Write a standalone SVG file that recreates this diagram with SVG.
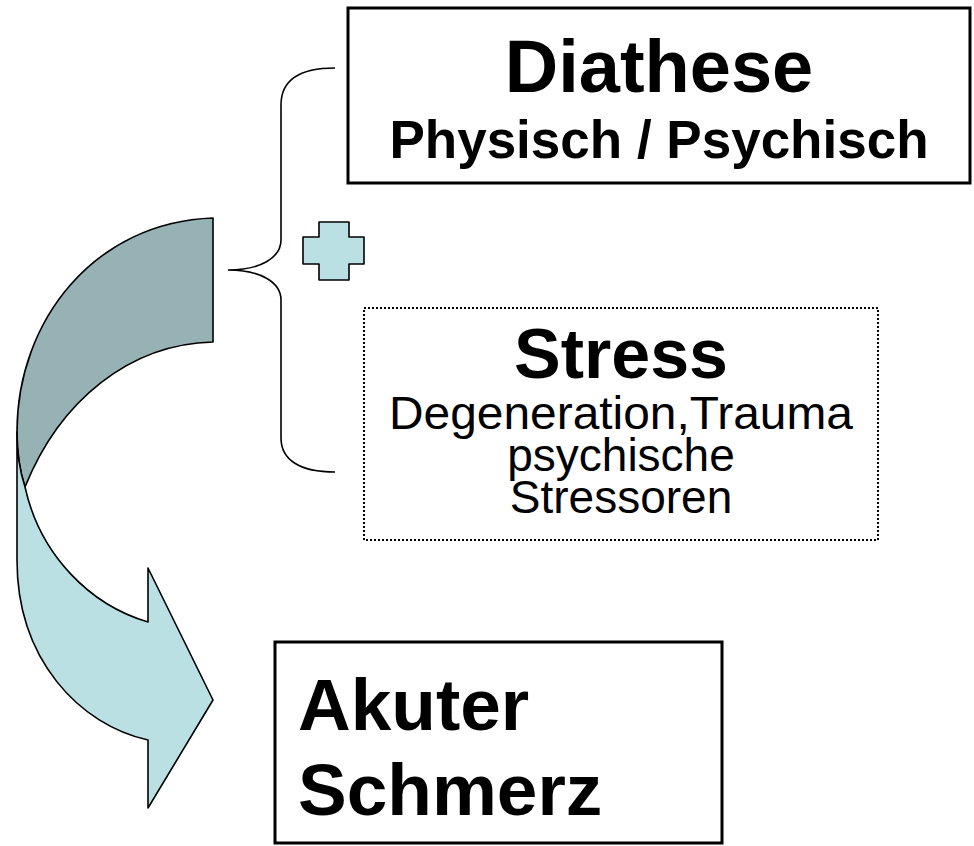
<svg xmlns="http://www.w3.org/2000/svg" width="974" height="846" viewBox="0 0 974 846">
<style>
.box{fill:#fff;stroke:#000;stroke-width:3}
.dot{fill:#fff;stroke:#000;stroke-width:2;stroke-dasharray:2 2}
.b{font-family:"Liberation Sans",Arial,sans-serif;font-weight:bold;fill:#000}
.r{font-family:"Liberation Sans",Arial,sans-serif;fill:#000}
.line{fill:none;stroke:#000;stroke-width:1.6}
.shape{stroke:#000;stroke-width:1.6;stroke-linejoin:round}
</style>
<rect width="974" height="846" fill="#fff"/>
<g id="arrow">
<path class="shape" fill="#97B2B5" d="M213,218 C95,222 17,320 17,432 C17,455 20,472 25,487 C60,400 130,344 213,342 Z"/>
<path class="shape" fill="#BBE0E3" d="M17,432 L17,560 C17,660 80,725 148,740 L148,808 L213,700 L148,568 L148,622 C90,605 40,555 25,487 C20,472 17,455 17,432 Z"/>
</g>
<g id="connectors">
<path class="line" d="M335,68 C300,68 281,80 281,105 L281,240 C281,258 260,270 228,270 C260,270 281,282 281,300 L281,438 C281,460 300,472 335,472"/>
</g>
<g id="plus">
<path class="shape" fill="#BBE0E3" stroke-width="2" d="M319,222 L349,222 L349,237 L364,237 L364,264 L349,264 L349,280 L319,280 L319,264 L303,264 L303,237 L319,237 Z"/>
</g>
<g id="diathese">
<rect class="box" x="348" y="8" width="622" height="175"/>
<text class="b" x="659" y="92" font-size="74" text-anchor="middle">Diathese</text>
<text class="b" x="659" y="158" font-size="53" text-anchor="middle">Physisch / Psychisch</text>
</g>
<g id="stress">
<rect class="dot" x="364" y="308" width="514" height="232"/>
<text class="b" x="621" y="378" font-size="70" text-anchor="middle">Stress</text>
<text class="r" x="621" y="429" font-size="47" text-anchor="middle" textLength="464" lengthAdjust="spacingAndGlyphs">Degeneration,Trauma</text>
<text class="r" x="621" y="471" font-size="46" text-anchor="middle">psychische</text>
<text class="r" x="621" y="513" font-size="46" text-anchor="middle">Stressoren</text>
</g>
<g id="schmerz">
<rect class="box" x="275" y="642" width="447" height="201"/>
<text class="b" x="298" y="730" font-size="73">Akuter</text>
<text class="b" x="298" y="815" font-size="73">Schmerz</text>
</g>
</svg>
